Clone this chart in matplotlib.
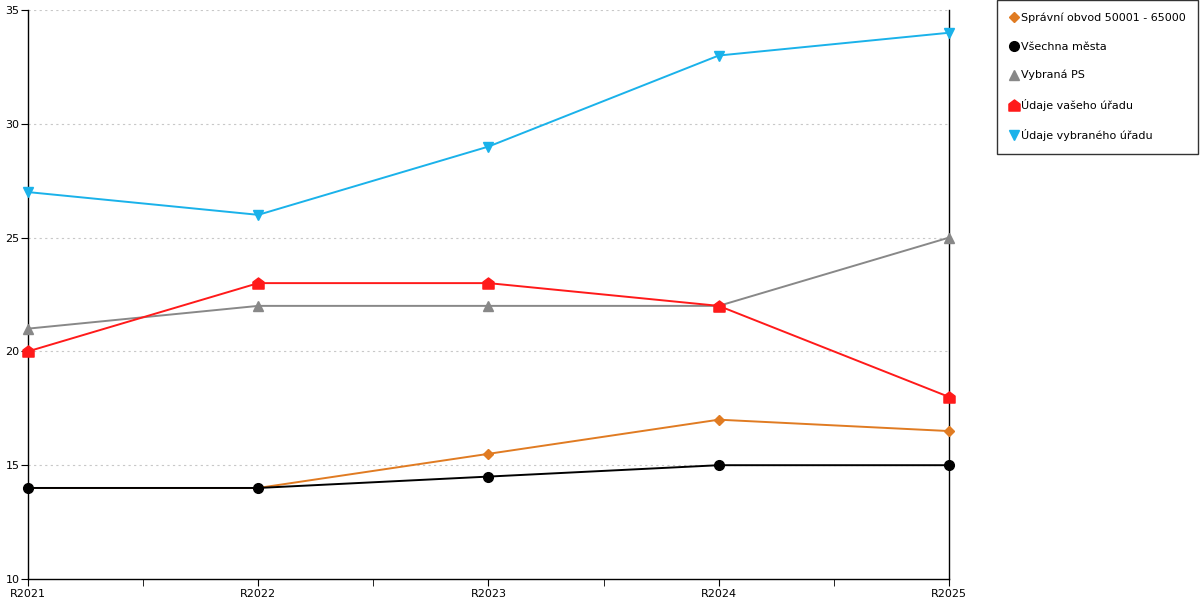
import numpy as np
import matplotlib.pyplot as plt
from matplotlib.lines import Line2D
from matplotlib.path import Path

roky = ['R2021', 'R2022', 'R2023', 'R2024', 'R2025']
spravni_obvod = [14, 14, 15.5, 17, 16.5]
vsechna_mesta = [14, 14, 14.5, 15, 15]
vybrana_ps = [21, 22, 22, 22, 25]
vas_urad = [20, 23, 23, 22, 18]
vybrany_urad = [27, 26, 29, 33, 34]

# marker ve tvaru domecku
domek = Path([(-1, -1), (1, -1), (1, 0.25), (0, 1), (-1, 0.25), (-1, -1)],
             [Path.MOVETO] + [Path.LINETO] * 4 + [Path.CLOSEPOLY])

serie = [
    ('Správní obvod 50001 - 65000', spravni_obvod, '#e07b22', 'D', 5),
    ('Všechna města', vsechna_mesta, '#000000', 'o', 7),
    ('Vybraná PS', vybrana_ps, '#888888', '^', 7),
    ('Údaje vašeho úřadu', vas_urad, '#ff1a1a', domek, 8),
    ('Údaje vybraného úřadu', vybrany_urad, '#1ab2ea', 'v', 7),
]

plt.rcParams['font.family'] = ['DejaVu Sans']
fig = plt.figure(figsize=(12, 6), dpi=100)
ax = fig.add_axes([28 / 1200, 21 / 600, 921 / 1200, 569 / 600])

x = np.arange(len(roky))
handles = []
for label, vals, col, mk, ms in serie:
    ax.plot(x, vals, color=col, lw=1.4, marker=mk, markersize=ms,
            markeredgecolor=col, clip_on=False, zorder=3)
    handles.append(Line2D([], [], ls='none', marker=mk, color=col,
                          markeredgecolor=col, markersize=ms))
# cerna na vrch
ax.lines[1].set_zorder(4)

ax.set_xlim(0, 4)
ax.set_ylim(10, 35)
ax.set_xticks(x)
ax.set_xticklabels(roky)
ax.set_xticks(x[:-1] + 0.5, minor=True)
ax.set_yticks([10, 15, 20, 25, 30, 35])
ax.tick_params(axis='both', which='both', direction='out', length=5,
               labelsize=8, pad=1, color='black')
ax.tick_params(axis='x', pad=2)

for y in [15, 20, 25, 30, 35]:
    ax.axhline(y, color='#c8c8c8', lw=0.8, ls=(0, (2, 3)), zorder=1)

ax.spines['top'].set_visible(False)
for s in ['left', 'bottom', 'right']:
    ax.spines[s].set_color('black')
    ax.spines[s].set_linewidth(1)

leg = fig.legend(handles, [s[0] for s in serie], loc='upper left',
                 bbox_to_anchor=(997 / 1200, 1.0), fontsize=8.0,
                 frameon=True, fancybox=False, edgecolor='black',
                 handlelength=0.7, handletextpad=0.3, labelspacing=1.65,
                 borderpad=1.15, borderaxespad=0)
leg.get_frame().set_linewidth(1)

fig.savefig('out.png', dpi=100)
